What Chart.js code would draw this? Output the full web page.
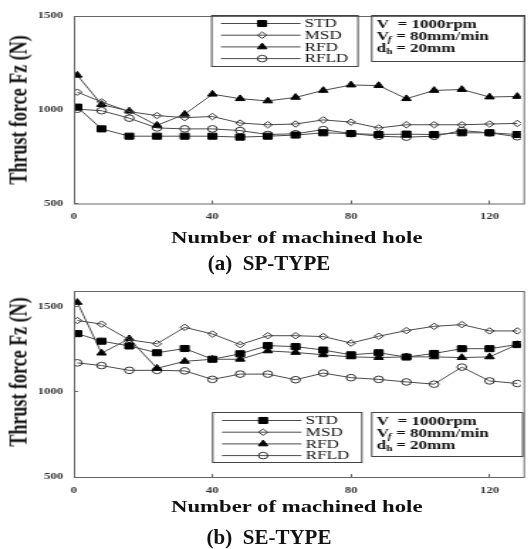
<!DOCTYPE html>
<html>
<head>
<meta charset="utf-8">
<script src="https://cdn.jsdelivr.net/npm/chart.js@4.4.1/dist/chart.umd.min.js"></script>
<style>
html, body { margin: 0; padding: 0; background: #fff; }
body { width: 528px; height: 549px; overflow: hidden; position: relative; font-family: "Liberation Serif", serif; color: #111; }
/* the whole figure is stretched sideways, like the scanned original */
#fig { position: absolute; left: 0; top: 0; width: 372px; height: 549px; transform: scaleX(1.42); transform-origin: 0 0; }
.plot { position: absolute; left: 0; width: 372px; }
.ytitle { position: absolute; font: bold 18px "Liberation Serif"; white-space: nowrap; transform: translate(-50%, -50%) rotate(-90deg); }
.xtitle { position: absolute; font: bold 16px "Liberation Serif"; white-space: nowrap; transform: translate(-50%, -50%); }
.cap { position: absolute; font: bold 20px "Liberation Serif"; white-space: pre; transform: translate(-50%, -50%) scaleX(1.05); }
</style>
</head>
<body>
<div id="fig">
    <div class="plot" style="top:0;height:228px"><canvas id="chartSP" width="372" height="228"></canvas></div>
    <div class="ytitle" style="left:13px;top:110px">Thrust force Fz (N)</div>
    <div class="xtitle" style="left:209px;top:238px">Number of machined hole</div>

    <div class="plot" style="top:275px;height:230px"><canvas id="chartSE" width="372" height="230"></canvas></div>
    <div class="ytitle" style="left:13px;top:372px">Thrust force Fz (N)</div>
    <div class="xtitle" style="left:209px;top:507px">Number of machined hole</div>
</div>
<div class="cap" style="left:269px;top:263px">(a)  SP-TYPE</div>
<div class="cap" style="left:269px;top:537px">(b)  SE-TYPE</div>

<script>
const holes = [1, 8, 16, 24, 32, 40, 48, 56, 64, 72, 80, 88, 96, 104, 112, 120, 128];
const xTicks = [0, 40, 80, 120];
const yTicks = [500, 1000, 1500];
const drillNames = ['STD', 'MSD', 'RFD', 'RFLD'];

// (a) SP-TYPE
const spSTD = [1014, 898, 859, 859, 859, 859, 854, 859, 865, 877, 873, 868, 870, 868, 877, 877, 868];
const spMSD = [1094, 1042, 990, 969, 958, 964, 929, 920, 924, 946, 934, 903, 920, 920, 920, 924, 927];
const spRFD = [1184, 1028, 993, 917, 976, 1083, 1059, 1047, 1066, 1103, 1132, 1129, 1059, 1103, 1108, 1068, 1071];
const spRFLD = [1003, 995, 955, 903, 898, 898, 889, 868, 872, 894, 873, 859, 854, 859, 889, 877, 856];

// (b) SE-TYPE
const seSTD = [1340, 1296, 1268, 1228, 1253, 1190, 1222, 1270, 1264, 1244, 1216, 1228, 1203, 1224, 1252, 1252, 1276];
const seMSD = [1417, 1396, 1304, 1281, 1377, 1338, 1276, 1328, 1328, 1323, 1285, 1325, 1358, 1383, 1393, 1356, 1356];
const seRFD = [1523, 1226, 1310, 1137, 1178, 1190, 1190, 1239, 1230, 1216, 1204, 1200, 1204, 1204, 1200, 1204, 1276];
const seRFLD = [1169, 1153, 1125, 1125, 1122, 1072, 1103, 1103, 1070, 1109, 1082, 1072, 1057, 1044, 1144, 1063, 1048];

const lineColor = '#4a4a4a';
const markStyles = [
    { pointStyle: 'rect', pointRadius: 4.3, pointBackgroundColor: '#000', pointBorderColor: '#000' },
    { pointStyle: 'rectRot', pointRadius: 3.2, pointBackgroundColor: 'rgba(0,0,0,0)', pointBorderColor: '#333' },
    { pointStyle: 'triangle', pointRadius: 3.8, pointBackgroundColor: '#000', pointBorderColor: '#000' },
    { pointStyle: 'circle', pointRadius: 3.3, pointBackgroundColor: 'rgba(0,0,0,0)', pointBorderColor: '#333' }
];

const tickFont = { family: 'Liberation Serif', size: 9, weight: 'bold' };

// frame round the plot area, legend box and the cutting-condition box
const boxesPlugin = {
    id: 'boxes',
    afterDraw(chart, args, opts) {
        const ctx = chart.ctx;
        const a = chart.chartArea;
        ctx.save();
        ctx.strokeStyle = '#666';
        ctx.lineWidth = 1;
        ctx.strokeRect(a.left + 0.5, a.top + 0.5, a.right - a.left + 2, a.bottom - a.top);

        // legend
        const lx = opts.legendX, ly = opts.legendY;
        ctx.strokeStyle = '#444';
        ctx.strokeRect(lx + 0.5, ly + 0.5, opts.legendW, opts.legendH);
        ctx.font = '12px "Liberation Serif"';
        ctx.textBaseline = 'middle';
        ctx.fillStyle = '#111';
        chart.data.datasets.forEach((ds, i) => {
            const y = ly + 8.5 + i * 11.7;
            ctx.strokeStyle = lineColor;
            ctx.beginPath();
            ctx.moveTo(lx + 7, y);
            ctx.lineTo(lx + 63, y);
            ctx.stroke();
            ctx.fillStyle = ds.pointBackgroundColor;
            ctx.strokeStyle = ds.pointBorderColor;
            ctx.lineWidth = 1;
            Chart.helpers.drawPoint(ctx, { pointStyle: ds.pointStyle, radius: ds.pointRadius, borderWidth: 1, rotation: 0 }, lx + 36, y);
            ctx.fillStyle = '#111';
            ctx.fillText(ds.label, lx + 66, y + 0.5);
        });

        // cutting conditions
        const px = opts.paramX, py = opts.paramY;
        ctx.strokeStyle = '#444';
        ctx.strokeRect(px + 0.5, py + 0.5, opts.paramW, opts.paramH);
        ctx.fillStyle = '#111';
        const big = 'bold 12px "Liberation Serif"';
        const sub = 'bold italic 8px "Liberation Serif"';
        const sub2 = 'bold 8px "Liberation Serif"';
        let x = px + 4;
        let y = py + 10;
        ctx.font = big;
        ctx.fillText('V  = 1000rpm', x, y);

        y = py + 22;
        ctx.fillText('V', x, y);
        let w = ctx.measureText('V').width;
        ctx.font = sub;
        ctx.fillText('f', x + w - 1, y + 3);
        ctx.font = big;
        ctx.fillText(' = 80mm/min', x + w + 2, y);

        y = py + 34;
        ctx.fillText('d', x, y);
        w = ctx.measureText('d').width;
        ctx.font = sub2;
        ctx.fillText('h', x + w, y + 3);
        ctx.font = big;
        ctx.fillText(' = 20mm', x + w + 4, y);
        ctx.restore();
    }
};

function makeDatasets(values) {
    return values.map((vals, i) => Object.assign({
        label: drillNames[i],
        data: vals,
        borderColor: lineColor,
        borderWidth: 1,
        pointBorderWidth: 1,
        tension: 0
    }, markStyles[i]));
}

function makeChart(id, values, yMax, axisHeight, boxes) {
    const ctx = document.getElementById(id).getContext('2d');
    return new Chart(ctx, {
        type: 'line',
        data: {
            labels: holes,
            datasets: makeDatasets(values)
        },
        options: {
            responsive: false,
            animation: false,
            layout: { padding: { top: 12, right: 0, left: 0, bottom: 0 } },
            plugins: {
                legend: { display: false },
                tooltip: { enabled: false },
                boxes: boxes
            },
            scales: {
                x: {
                    type: 'linear',
                    min: 0,
                    max: 129,
                    afterFit: (scale) => { scale.height = axisHeight; },
                    afterBuildTicks: (scale) => { scale.ticks = xTicks.map(v => ({ value: v })); },
                    ticks: { font: tickFont, color: '#333', padding: 11, maxRotation: 0, callback: (v) => String(v) },
                    grid: { drawOnChartArea: false, tickLength: -3, color: '#666' },
                    border: { display: false }
                },
                y: {
                    type: 'linear',
                    min: 500,
                    max: yMax,
                    afterFit: (scale) => { scale.width = 52; },
                    afterBuildTicks: (scale) => { scale.ticks = yTicks.map(v => ({ value: v })); },
                    ticks: { font: tickFont, color: '#333', padding: 10.6, callback: (v) => String(v) },
                    grid: { drawOnChartArea: false, tickLength: -3, color: '#666' },
                    border: { display: false }
                }
            }
        },
        plugins: [boxesPlugin]
    });
}

makeChart('chartSP', [spSTD, spMSD, spRFD, spRFLD], 1500, 24.5, {
    legendX: 148.6, legendY: 15, legendW: 103, legendH: 51,
    paramX: 261.3, paramY: 15, paramW: 107.7, paramH: 46
});

makeChart('chartSE', [seSTD, seMSD, seRFD, seRFLD], 1590, 28, {
    legendX: 149.3, legendY: 137, legendW: 105, legendH: 50,
    paramX: 261.3, paramY: 137, paramW: 106.3, paramH: 44
});
</script>
</body>
</html>
